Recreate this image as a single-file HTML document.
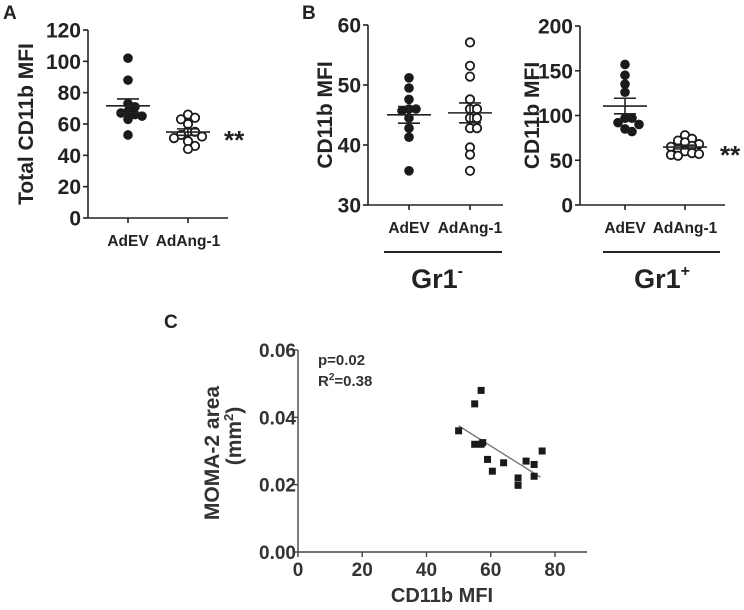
<!DOCTYPE html>
<html><head><meta charset="utf-8"><style>
body{margin:0;background:#fff;width:744px;height:605px;overflow:hidden}
svg{font-family:"Liberation Sans",Arial,sans-serif;font-weight:bold}
</style></head><body>
<svg id="fig" width="744" height="605" viewBox="0 0 744 605"></svg>
<script>
const aCats=["AdEV","AdAng-1"];
const aEV=[102,88,73,71,68,67,66,65,63,53];
const aAng=[66,64,63,60,55,55,53,52,51,49,46,44];
const aTicks=[0,20,40,60,80,100,120];
const b1EV=[51.2,49.5,47.6,46,46,45.7,44.5,42.8,41.3,35.7];
const b1Ang=[57.1,53.2,51.4,47.6,46,46,44.5,44.5,42.8,42.8,39.6,38.4,35.7];
const b1Ticks=[30,40,50,60];
const b2EV=[157,145,135,126,97,97,92,90,85,82];
const b2Ang=[78,74,72,70,68,66,65,63,60,58,57,56,55];
const b2Ticks=[0,50,100,150,200];
const cX=[50,55,57,55,57,57.5,59,60.5,64,68.5,68.5,71,73.5,73.5,76];
const cY=[0.036,0.044,0.048,0.032,0.032,0.0325,0.0275,0.024,0.0265,0.022,0.0198,0.027,0.026,0.0225,0.030];
const cXTicks=[0,20,40,60,80];
const cYTicks=[0,0.02,0.04,0.06];
const cFit=[[50,0.0375],[75.5,0.0222]];

const NS="http://www.w3.org/2000/svg";
const svg=document.getElementById('fig');
function mk(tag,attrs,parent,txt){const e=document.createElementNS(NS,tag);for(const k in attrs)e.setAttribute(k,attrs[k]);if(txt!==undefined)e.textContent=txt;(parent||svg).appendChild(e);return e;}
function mean(a){return a.reduce((s,v)=>s+v,0)/a.length;}
function sem(a){const m=mean(a);const sd=Math.sqrt(a.reduce((s,v)=>s+(v-m)*(v-m),0)/(a.length-1));return sd/Math.sqrt(a.length);}
function swarm(vals,yf){
  const placed=[];const out=[];const d=6.5;
  vals.forEach(v=>{const y=yf(v);
    for(let k=0;k<40;k++){const off=(k%2?1:-1)*Math.ceil(k/2)*7;
      if(placed.every(p=>Math.hypot(p[0]-off,p[1]-y)>=d)){placed.push([off,y]);out.push(Math.max(-24,Math.min(24,off)));return;}}
    out.push(0);});
  return out;
}
function dotPlot(o){
  const g=mk('g',{},svg);
  
  
  const y=v=>o.y0+(v-o.min)/(o.max-o.min)*(o.y1-o.y0);
  mk('line',{x1:o.ax,y1:o.y1,x2:o.ax,y2:o.y0,stroke:'#222','stroke-width':1.6},g);
  mk('line',{x1:o.ax,y1:o.y0,x2:o.axEnd,y2:o.y0,stroke:'#222','stroke-width':1.6},g);
  o.ticks.forEach(t=>{mk('line',{x1:o.ax-5,x2:o.ax,y1:y(t),y2:y(t),stroke:'#222','stroke-width':1.6},g);
    const tl=mk('text',{x:o.ax-7,y:y(t)+7.5,'text-anchor':'end','font-size':21,fill:'#222'},g,String(t));
    });
  o.groups.forEach((gr,gi)=>{
    const cx=o.cx[gi];
    mk('line',{x1:cx,x2:cx,y1:o.y0,y2:o.y0+5,stroke:'#222','stroke-width':1.6},g);
    const lb=mk('text',{x:cx,y:o.y0+28,'text-anchor':'middle','font-size':15.5,fill:'#222'},g,aCats[gi]);
    
    const offs=swarm(gr,y);
    gr.forEach((v,i)=>{const c=mk('circle',{cx:cx+offs[i],cy:y(v),r:gi?4.2:4.8,fill:gi?'#fff':'#1a1a1a',stroke:'#1a1a1a','stroke-width':gi?1.8:0},g);
      });
    const m=mean(gr),s=sem(gr);
    mk('line',{x1:cx-22,x2:cx+22,y1:y(m),y2:y(m),stroke:'#222','stroke-width':1.6},g);
    mk('line',{x1:cx,x2:cx,y1:y(m-s),y2:y(m+s),stroke:'#222','stroke-width':1.6},g);
    mk('line',{x1:cx-11,x2:cx+11,y1:y(m-s),y2:y(m-s),stroke:'#222','stroke-width':1.6},g);
    mk('line',{x1:cx-11,x2:cx+11,y1:y(m+s),y2:y(m+s),stroke:'#222','stroke-width':1.6},g);
  });
  const t=mk('text',{transform:`translate(${o.titleX},${(o.y0+o.y1)/2}) rotate(-90)`,'text-anchor':'middle','font-size':21,fill:'#222'},g,o.title);
  
  if(o.star){const s=mk('text',{x:o.star,y:y(mean(o.groups[1]))+17,'font-size':26,fill:'#222'},g,'**');
    }
}
dotPlot({name:'panel-a-chart',ax:88,axEnd:228,y0:218,y1:30,min:0,max:120,ticks:aTicks,cx:[128,188],groups:[aEV,aAng],title:'Total CD11b MFI',titleX:33,star:224});
dotPlot({name:'panel-b-gr1-neg-chart',ax:368,axEnd:503,y0:205,y1:25,min:30,max:60,ticks:b1Ticks,cx:[409,470],groups:[b1EV,b1Ang],title:'CD11b MFI',titleX:332});
dotPlot({name:'panel-b-gr1-pos-chart',ax:580,axEnd:725,y0:205,y1:26,min:0,max:200,ticks:b2Ticks,cx:[625,685],groups:[b2EV,b2Ang],title:'CD11b MFI',titleX:539,star:720});

mk('line',{x1:384,x2:502,y1:252,y2:252,stroke:'#222','stroke-width':2});
mk('line',{x1:603,x2:720,y1:252,y2:252,stroke:'#222','stroke-width':2});
let gl=mk('text',{x:437,y:288,'text-anchor':'middle','font-size':27,fill:'#222'});

gl.innerHTML='Gr1<tspan dy="-12" font-size="16">-</tspan>';
gl=mk('text',{x:662,y:288,'text-anchor':'middle','font-size':27,fill:'#222'});

gl.innerHTML='Gr1<tspan dy="-12" font-size="16">+</tspan>';

[['A',3,19],['B',302,19],['C',164,328]].forEach(([l,x,yy])=>{const t=mk('text',{x:x,y:yy,'font-size':19,fill:'#222'},svg,l);
  });

(function(){
  const g=mk('g',{});
  
  
  const X=v=>298+v/80*(555-298), Y=v=>552-v/0.06*(552-350);
  mk('line',{x1:298,y1:552,x2:298,y2:350,stroke:'#444','stroke-width':1.4},g);
  mk('line',{x1:298,y1:552,x2:587,y2:552,stroke:'#444','stroke-width':1.4},g);
  cYTicks.forEach(t=>{mk('line',{x1:293,x2:298,y1:Y(t),y2:Y(t),stroke:'#444','stroke-width':1.4},g);
    const l=mk('text',{x:296,y:Y(t)+7,'text-anchor':'end','font-size':19,fill:'#333'},g,t.toFixed(2));
    });
  cXTicks.forEach(t=>{mk('line',{x1:X(t),x2:X(t),y1:552,y2:557,stroke:'#444','stroke-width':1.4},g);
    const l=mk('text',{x:X(t),y:576,'text-anchor':'middle','font-size':19,fill:'#333'},g,String(t));
    });
  const fl=mk('line',{x1:X(cFit[0][0]),y1:Y(cFit[0][1]),x2:X(cFit[1][0]),y2:Y(cFit[1][1]),stroke:'#777','stroke-width':1.4},g);
  
  cX.forEach((x,i)=>{const r=mk('rect',{x:X(x)-3.5,y:Y(cY[i])-3.5,width:7,height:7,fill:'#1a1a1a'},g);
    });
  let t=mk('text',{x:318,y:365,'font-size':15,fill:'#333'},g,'p=0.02');
  
  t=mk('text',{x:318,y:386,'font-size':15,fill:'#333'},g);
  
  t.innerHTML='R<tspan dy="-6" font-size="10">2</tspan><tspan dy="6">=0.38</tspan>';
  t=mk('text',{x:442,y:602,'text-anchor':'middle','font-size':20,fill:'#333'},g,'CD11b MFI');
  
  t=mk('text',{transform:'translate(219,453) rotate(-90)','text-anchor':'middle','font-size':21,fill:'#333'},g,'MOMA-2 area');
  
  t=mk('text',{transform:'translate(241,436) rotate(-90)','text-anchor':'middle','font-size':21,fill:'#333'},g);
  
  t.innerHTML='(mm<tspan dy="-8" font-size="13">2</tspan><tspan dy="8">)</tspan>';
})();
</script>
</body></html>
